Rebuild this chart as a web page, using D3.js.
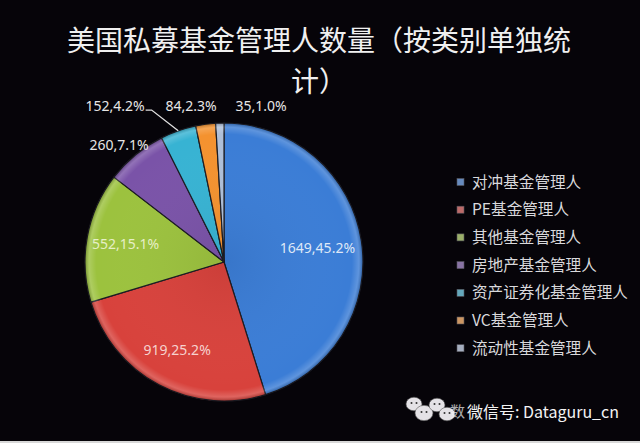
<!DOCTYPE html>
<html><head><meta charset="utf-8">
<script src="https://cdn.jsdelivr.net/npm/d3@7/dist/d3.min.js"></script>
<style>
html,body{margin:0;padding:0;background:#060409;}
svg{display:block;}
</style></head>
<body>
<svg id="chart" width="640" height="443"></svg>
<script>
// ---- data ----
const titleLines = ["美国私募基金管理人数量（按类别单独统", "计）"];
const categories = ["对冲基金管理人","PE基金管理人","其他基金管理人","房地产基金管理人","资产证券化基金管理人","VC基金管理人","流动性基金管理人"];
const values = [1649, 919, 552, 260, 152, 84, 35];
const percentLabels = ["45.2%","25.2%","15.1%","7.1%","4.2%","2.3%","1.0%"];
const colors = ["#3b7dd6","#d8423c","#9cc23e","#7a53a8","#37b3d3","#f4922f","#aebfd8"];
const watermarkPrefix = "数";
const watermark = "微信号: Dataguru_cn";

// ---- layout ----
const W = 640, H = 443;
const cx = 224, cy = 262, R = 139;
const insideRadius = [0.68, 0.72, 0.72];
const insideTextColors = ["#dfe8f7","#f6d2cf","#e6efc6"];
const outsidePos = {3:[-0.755,-0.842], 4:[-0.784,-1.122], 5:[-0.237,-1.122], 6:[0.266,-1.122]};

const svg = d3.select("#chart");
svg.append("rect").attr("width",W).attr("height",H).attr("fill","#060409");
svg.append("rect").attr("x",0).attr("y",H-2).attr("width",W).attr("height",2).attr("fill","#d8d8d8");

// title
svg.append("g").selectAll("text").data(titleLines).join("text")
  .attr("x", 319).attr("y", (d,i)=> 51 + i*41)
  .attr("text-anchor","middle")
  .attr("fill","#f0f0f0")
  .attr("font-family","'Noto Sans CJK SC', sans-serif")
  .attr("font-weight", 400)
  .attr("font-size", 28)
  .text(d=>d);

// pie
const pie = d3.pie().sort(null).value(d=>d);
const arcs = pie(values);
const arc = d3.arc().innerRadius(0).outerRadius(R);

const defs = svg.append("defs");
const bevel = defs.append("radialGradient").attr("id","bevel")
  .attr("gradientUnits","userSpaceOnUse").attr("cx",cx).attr("cy",cy).attr("r",R);
bevel.append("stop").attr("offset","0%").attr("stop-color","#000").attr("stop-opacity",0.06);
bevel.append("stop").attr("offset","92%").attr("stop-color","#fff").attr("stop-opacity",0.0);
bevel.append("stop").attr("offset","97%").attr("stop-color","#fff").attr("stop-opacity",0.18);
bevel.append("stop").attr("offset","100%").attr("stop-color","#000").attr("stop-opacity",0.25);

const g = svg.append("g").attr("transform",`translate(${cx},${cy})`);
g.selectAll("path.slice").data(arcs).join("path")
  .attr("class","slice")
  .attr("d", arc)
  .attr("fill", (d,i)=>colors[i])
  .attr("stroke","#1b1b22").attr("stroke-width",1.2);
g.append("circle").attr("r",R).attr("fill","url(#bevel)")
  .attr("transform",`translate(${-cx},${-cy})`).attr("cx",cx).attr("cy",cy);

const labelFont = "'Noto Sans', 'DejaVu Sans', sans-serif";
const mid = d => (d.startAngle + d.endAngle)/2;

// inside labels
arcs.forEach((d,i)=>{
  if (i < 3) {
    const a = mid(d), rr = insideRadius[i]*R;
    g.append("text")
      .attr("x", Math.sin(a)*rr).attr("y", -Math.cos(a)*rr)
      .attr("dy","0.35em").attr("text-anchor","middle")
      .attr("font-family",labelFont).attr("font-size",14)
      .attr("fill", insideTextColors[i])
      .text(values[i] + "," + percentLabels[i]);
  }
});

// outside labels with leaders
arcs.forEach((d,i)=>{
  if (i < 3) return;
  const p = outsidePos[i];
  const lx = p[0]*R, ly = p[1]*R;
  const t = g.append("text")
    .attr("x", lx).attr("y", ly)
    .attr("dy","0.35em").attr("text-anchor","middle")
    .attr("font-family",labelFont).attr("font-size",14)
    .attr("fill","#e6e6e6")
    .text(values[i] + "," + percentLabels[i]);
  const w = t.node().getComputedTextLength();
  const a = mid(d);
  const ax = Math.sin(a)*R, ay = -Math.cos(a)*R;
  const dist = Math.hypot(ax-lx, ay-ly);
  if (dist < 50) return;
  let pts;
  if (ax > lx - w/2 && ax < lx + w/2) {
    pts = [[ax, ly+7],[ax, ay]];
  } else if (ax >= lx + w/2) {
    const sx = lx + w/2 + 1;
    pts = [[sx, ly+4],[sx+6, ly+4],[ax, ay]];
  } else {
    const sx = lx - w/2 - 1;
    pts = [[sx, ly+4],[sx-6, ly+4],[ax, ay]];
  }
  g.append("path").attr("d", d3.line()(pts))
    .attr("fill","none").attr("stroke","#e0e0e0").attr("stroke-width",1.3);
});

// legend
const legend = svg.append("g").attr("transform","translate(457,182)");
const items = legend.selectAll("g").data(categories).join("g")
  .attr("transform",(d,i)=>`translate(0,${i*27.7})`);
items.append("rect").attr("x",0).attr("y",-3.5).attr("width",7).attr("height",7)
  .attr("fill",(d,i)=>d3.interpolateRgb(colors[i],"#9a9aa0")(0.45))
  .attr("stroke","#55555c").attr("stroke-width",0.6);
items.append("text").attr("x",15).attr("y",0).attr("dy","0.36em")
  .attr("font-family","'Noto Sans CJK SC', sans-serif").attr("font-size",15.6)
  .attr("fill","#d9d9dc").text(d=>d);

// watermark
const wm = svg.append("g");
const bubbles = [[414,404,8],[424,413,9],[437,405,8],[447,414,8]];
bubbles.forEach(b=>{
  wm.append("ellipse").attr("cx",b[0]).attr("cy",b[1]).attr("rx",b[2]).attr("ry",b[2]*0.85)
    .attr("fill","#e4e2e6").attr("stroke","#555").attr("stroke-width",0.6);
  wm.append("circle").attr("cx",b[0]-2.5).attr("cy",b[1]-1).attr("r",1).attr("fill","#333");
  wm.append("circle").attr("cx",b[0]+2.5).attr("cy",b[1]-1).attr("r",1).attr("fill","#333");
});
wm.append("text").attr("x",450).attr("y",417)
  .attr("font-family","'Noto Sans CJK SC', sans-serif").attr("font-size",15)
  .attr("fill","#f4f4f4").attr("opacity",0.7).text(watermarkPrefix);
wm.append("text").attr("x",467).attr("y",418)
  .attr("font-family","'Noto Sans CJK SC', sans-serif").attr("font-size",16)
  .attr("fill","#f4f4f4").text(watermark);
</script>
</body></html>
